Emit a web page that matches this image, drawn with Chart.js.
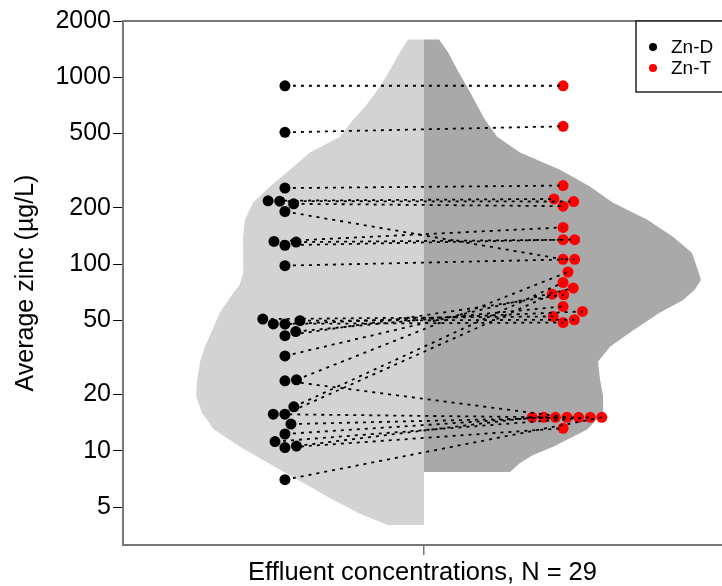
<!DOCTYPE html>
<html>
<head>
<meta charset="utf-8">
<title>Average zinc</title>
<script src="https://cdn.jsdelivr.net/npm/chart.js@4.4.1/dist/chart.umd.min.js"></script>
<style>
    html, body { margin: 0; padding: 0; background: #fff; overflow: hidden; }
</style>
</head>
<body>
<canvas id="chartCanvas" width="722" height="586"></canvas>
<script>
// paired effluent samples, dissolved (Zn-D) and total (Zn-T) zinc, µg/L
const seriesNames = ['Zn-D', 'Zn-T'];
const znD = [900, 507, 255, 218, 217, 210, 191, 132, 126, 131, 98, 50.7, 49.7, 47.8, 47.7, 43.5,
             41.3, 32.2, 24.0, 17.2, 15.7, 23.7, 15.7, 13.9, 12.3, 11.2, 10.4, 10.6, 7.0];
const znT = [900, 546, 263, 223, 216, 204, 106, 157, 135, 135, 106, 52.4, 50.3, 48.6, 55.7, 59.3,
             68.4, 74.3, 90.6, 79.6, 68.9, 15.1, 15.1, 15.1, 15.1, 15.1, 13.2, 15.1, 15.1];
const yTicks = [5, 10, 20, 50, 100, 200, 500, 1000, 2000];
const xTitle = 'Effluent concentrations, N = 29';
const yTitle = 'Average zinc (µg/L)';

// violin halves: concentration levels and density half-widths
const violinDLevels = [1590, 1360, 1100, 890, 700, 590, 480, 395, 320, 260, 213, 173, 140, 115, 90, 78, 67,
                       55, 44, 36, 30, 24, 19.5, 16, 13, 10.5, 8.6, 7.0, 5.7, 4.6, 4.0];
const violinDWidth = [0.053, 0.080, 0.112, 0.146, 0.195, 0.236, 0.279, 0.379, 0.445, 0.512, 0.568, 0.595,
                      0.601, 0.601, 0.600, 0.612, 0.642, 0.678, 0.704, 0.728, 0.744, 0.754, 0.757, 0.738,
                      0.698, 0.611, 0.518, 0.419, 0.322, 0.213, 0.120];
const violinTLevels = [1590, 1360, 1100, 890, 700, 590, 480, 395, 320, 260, 213, 173, 140, 115, 93, 82, 73,
                       64, 55, 44, 36, 30, 24, 19.5, 16, 13, 10.5, 9.5, 8.6, 7.7];
const violinTWidth = [0.050, 0.080, 0.110, 0.143, 0.178, 0.203, 0.243, 0.319, 0.452, 0.551, 0.628, 0.741,
                      0.827, 0.890, 0.910, 0.920, 0.900, 0.860, 0.784, 0.694, 0.618, 0.578, 0.585, 0.595,
                      0.595, 0.542, 0.429, 0.362, 0.319, 0.286];

const groupPos = 0.462;   // swarm centres, either side of the split
const dotSize = 11.6;     // px, spacing used by the swarm
const axisGray = '#777';
const fontFamily = '"Liberation Sans", Arial, sans-serif';

Chart.defaults.font.family = fontFamily;
Chart.defaults.color = '#000';

function halfViolin(levels, widths, side) {
    const pts = [{x: 0, y: levels[0]}];
    levels.forEach((v, i) => pts.push({x: side * widths[i], y: v}));
    pts.push({x: 0, y: levels[levels.length - 1]});
    return pts;
}

// port of beeswarm's "swarm" placement, priority ascending
function swarm(pix, size) {
    const n = pix.length;
    const order = pix.map((v, i) => i).sort((a, b) => pix[b] - pix[a]);
    const off = new Array(n).fill(0);
    const placed = [];
    for (const i of order) {
        const xi = pix[i] / size;
        const near = placed.filter(j => Math.abs(xi - pix[j] / size) < 1);
        let best = 0;
        if (near.length) {
            const cands = [0];
            near.forEach(j => { const d = xi - pix[j] / size; cands.push(off[j] + Math.sqrt(1 - d * d)); });
            near.forEach(j => { const d = xi - pix[j] / size; cands.push(off[j] - Math.sqrt(1 - d * d)); });
            let bestAbs = Infinity;
            for (const c of cands) {
                const bad = near.some(j => {
                    const dx = xi - pix[j] / size, dy = c - off[j];
                    return dx * dx + dy * dy < 0.999;
                });
                if (!bad && Math.abs(c) < bestAbs) { bestAbs = Math.abs(c); best = c; }
            }
        }
        off[i] = best;
        placed.push(i);
    }
    return off.map(o => o * size);
}

const pairSets = znD.map((v, i) => ({
    type: 'scatter',
    showLine: true,
    data: [{x: -groupPos, y: v}, {x: groupPos, y: znT[i]}],
    borderColor: '#000',
    borderWidth: 1.8,
    borderDash: [3, 5],
    pointRadius: 0,
    order: 1
}));

const datasets = [
    {
        label: 'violinD',
        data: halfViolin(violinDLevels, violinDWidth, -1),
        showLine: true, fill: 'shape', tension: 0,
        backgroundColor: '#d3d3d3', borderWidth: 0, pointRadius: 0, order: 3
    },
    {
        label: 'violinT',
        data: halfViolin(violinTLevels, violinTWidth, 1),
        showLine: true, fill: 'shape', tension: 0,
        backgroundColor: '#a9a9a9', borderWidth: 0, pointRadius: 0, order: 3
    },
    {
        label: seriesNames[0],
        data: znD.map(v => ({x: -groupPos, y: v})),
        backgroundColor: '#000', borderWidth: 0, pointRadius: 5.5, order: 2, isSeries: true
    },
    {
        label: seriesNames[1],
        data: znT.map(v => ({x: groupPos, y: v})),
        backgroundColor: '#ff0000', borderWidth: 0, pointRadius: 5.5, order: 2, isSeries: true
    },
    ...pairSets
];

const framePlugin = {
    id: 'frame',
    afterDraw(chart) {
        const {ctx, chartArea: a} = chart;
        ctx.save();
        ctx.strokeStyle = axisGray;
        ctx.lineWidth = 2;
        ctx.beginPath();
        ctx.moveTo(a.left - 1, a.top);
        ctx.lineTo(a.right + 4, a.top);
        ctx.stroke();

        // legend box, top right (right side runs off the canvas)
        const bx = a.right - 86, by = a.top, bw = 96, bh = 71;
        ctx.fillStyle = '#fff';
        ctx.fillRect(bx, by, bw, bh);
        ctx.strokeStyle = '#222';
        ctx.lineWidth = 1.5;
        ctx.strokeRect(bx, by, bw, bh);
        ctx.font = '19px ' + fontFamily;
        ctx.textBaseline = 'middle';
        chart.data.datasets.filter(d => d.isSeries).forEach((d, k) => {
            const cy = by + 26 + k * 21;
            ctx.fillStyle = d.backgroundColor;
            ctx.beginPath();
            ctx.arc(bx + 17, cy, 4, 0, Math.PI * 2);
            ctx.fill();
            ctx.fillStyle = '#000';
            ctx.fillText(d.label, bx + 35, cy + 1);
        });
        ctx.restore();
    }
};

const config = {
    type: 'scatter',
    data: {datasets: datasets},
    options: {
        responsive: false,
        animation: false,
        events: [],
        layout: {autoPadding: false, padding: {top: 21, left: 0, right: 0, bottom: 0}},
        plugins: {legend: {display: false}, tooltip: {enabled: false}},
        scales: {
            x: {
                type: 'linear',
                min: -1,
                max: 0.99,
                afterBuildTicks: s => { s.ticks = [{value: 0}]; },
                afterFit: s => { s.height = 41; s.paddingLeft = 0; s.paddingRight = 0; },
                ticks: {callback: () => '', padding: 0},
                grid: {drawOnChartArea: false, color: axisGray, tickLength: 10, lineWidth: 1.5},
                border: {display: true, color: axisGray, width: 2},
                title: {
                    display: true, text: xTitle, color: '#000',
                    font: {size: 25.5, lineHeight: 1}, padding: {top: 0, bottom: 0}
                }
            },
            y: {
                type: 'logarithmic',
                min: 3.13,
                max: 2000,
                afterBuildTicks: s => { s.ticks = yTicks.map(v => ({value: v})); },
                afterFit: s => { s.width = 123; },
                ticks: {
                    autoSkip: false,
                    padding: 2,
                    color: '#000',
                    font: {size: 25},
                    callback: v => String(v)
                },
                grid: {drawOnChartArea: false, color: '#000', tickLength: 10, lineWidth: 1},
                border: {display: true, color: axisGray, width: 2},
                title: {
                    display: true, text: yTitle, color: '#000',
                    font: {size: 25, lineHeight: 1}, padding: {top: 14, bottom: 0}
                }
            }
        }
    },
    plugins: [framePlugin]
};

const chart = new Chart(document.getElementById('chartCanvas'), config);

function placePoints(chart) {
    const xs = chart.scales.x, ys = chart.scales.y;
    const unit = xs.getPixelForValue(1) - xs.getPixelForValue(0);
    const offD = swarm(znD.map(v => ys.getPixelForValue(v)), dotSize);
    const offT = swarm(znT.map(v => ys.getPixelForValue(v)), dotSize);
    const ptsD = znD.map((v, i) => ({x: -groupPos + offD[i] / unit, y: v}));
    const ptsT = znT.map((v, i) => ({x: groupPos + offT[i] / unit, y: v}));
    chart.data.datasets[2].data = ptsD;
    chart.data.datasets[3].data = ptsT;
    ptsD.forEach((p, i) => { chart.data.datasets[4 + i].data = [p, ptsT[i]]; });
    chart.update('none');
}

placePoints(chart);
</script>
</body>
</html>
